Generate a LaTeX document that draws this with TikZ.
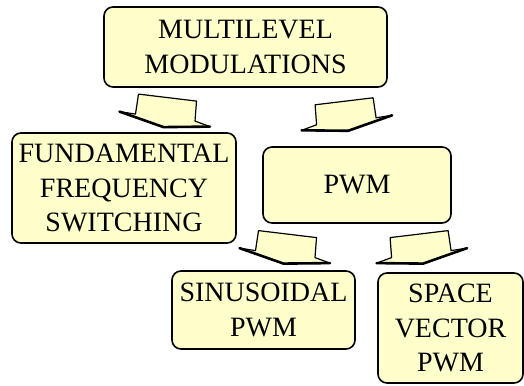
\documentclass[tikz,border=0pt]{standalone}
\usepackage{fontspec}
\setmainfont{Liberation Serif}
\usetikzlibrary{calc}
\definecolor{boxfill}{HTML}{FFFFCC}
\tikzset{
 modbox/.style={draw, line width=1.6pt, rounded corners=9pt, fill=boxfill,
  align=center, inner sep=0pt, font=\fontsize{28}{34.5}\selectfont},
 arrowbody/.style={draw, line width=1.2pt, fill=boxfill, line join=round},
 arrowedge/.style={line width=2.6pt, line join=round, line cap=round}
}
\newcommand{\blockarrow}[2]{% sidro, zrcaljenje (1 ali -1)
\begin{scope}[shift={(#1)},xscale=#2]
\filldraw[arrowbody] (-29,-3.5)--(29,3.5)--(27.5,23.5)--(42.5,29)--(-4,29.5)--(-48,14)--(-32,16.5)--cycle;
\draw[arrowedge] (42.5,29)--(-4,29.5)--(-48,14);
\end{scope}
}
\begin{document}
\begin{tikzpicture}[x=1pt,y=-1pt]
			\useasboundingbox (0,0) rectangle (524,385);

			\node[modbox, minimum width=283pt, minimum height=80pt] (multi) at (245.5,47) {MULTILEVEL\\MODULATIONS};
			\node[modbox, minimum width=224pt, minimum height=110pt] (fund) at (124,188) {FUNDAMENTAL\\FREQUENCY\\SWITCHING};
			\node[modbox, minimum width=188pt, minimum height=76pt] (pwm) at (357,185) {PWM};
			\node[modbox, minimum width=183pt, minimum height=78pt] (sin) at (263.5,310) {SINUSOIDAL\\PWM};
			\node[modbox, minimum width=145pt, minimum height=110pt] (svm) at (450.5,328) {SPACE\\VECTOR\\PWM};

			% puscice med skatlami
			\coordinate (a1) at ($(multi.south west)+(64.3,9.8)$);
			\coordinate (a2) at ($(multi.south east)+(-43.7,13.5)$);
			\coordinate (a3) at ($(pwm.south west)+(25.3,10.3)$);
			\coordinate (a4) at ($(pwm.south east)+(-32.7,10.3)$);
			\blockarrow{a1}{1}
			\blockarrow{a2}{-1}
			\blockarrow{a3}{1}
			\blockarrow{a4}{-1}
\end{tikzpicture}
\end{document}
